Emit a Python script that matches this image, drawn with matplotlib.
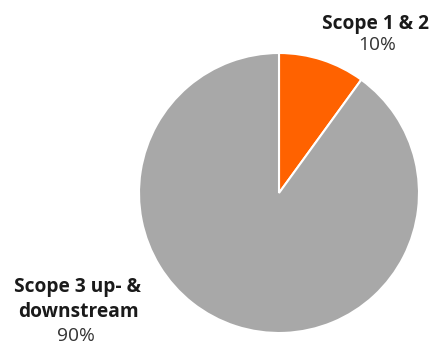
import matplotlib.pyplot as plt

labels = ["Scope 1 & 2", "Scope 3 up- &\ndownstream"]
shares = [10, 90]
colors = ["#FF6200", "#A8A8A8"]

plt.rcParams['font.family'] = ['Open Sans', 'DejaVu Sans']

fig = plt.figure(figsize=(4.31, 3.45), dpi=100)
ax = fig.add_axes([0, 0, 1, 1])

# pie in pixel-like coordinates, starting at 12 o'clock going clockwise
ax.pie(shares, colors=colors, startangle=90, counterclock=False,
       center=(279, 152), radius=140,
       wedgeprops=dict(edgecolor='white', linewidth=1.5))
ax.set_xlim(0, 431)
ax.set_ylim(0, 345)
ax.set_aspect('equal')
ax.axis('off')

fs = 13.8
ax.text(376, 316, labels[0], ha='center', va='baseline', fontsize=fs,
        fontweight='bold', color='#1a1a1a')
ax.text(377, 295, f"{shares[0]}%", ha='center', va='baseline', fontsize=fs,
        color='#333333')

for line, yb in zip(labels[1].split("\n"), [53, 28]):
    ax.text(78, yb, line, ha='center', va='baseline', fontsize=fs,
            fontweight='bold', color='#1a1a1a')
ax.text(76, 4, f"{shares[1]}%", ha='center', va='baseline', fontsize=fs,
        color='#333333')

fig.savefig('out.png', dpi=100)
